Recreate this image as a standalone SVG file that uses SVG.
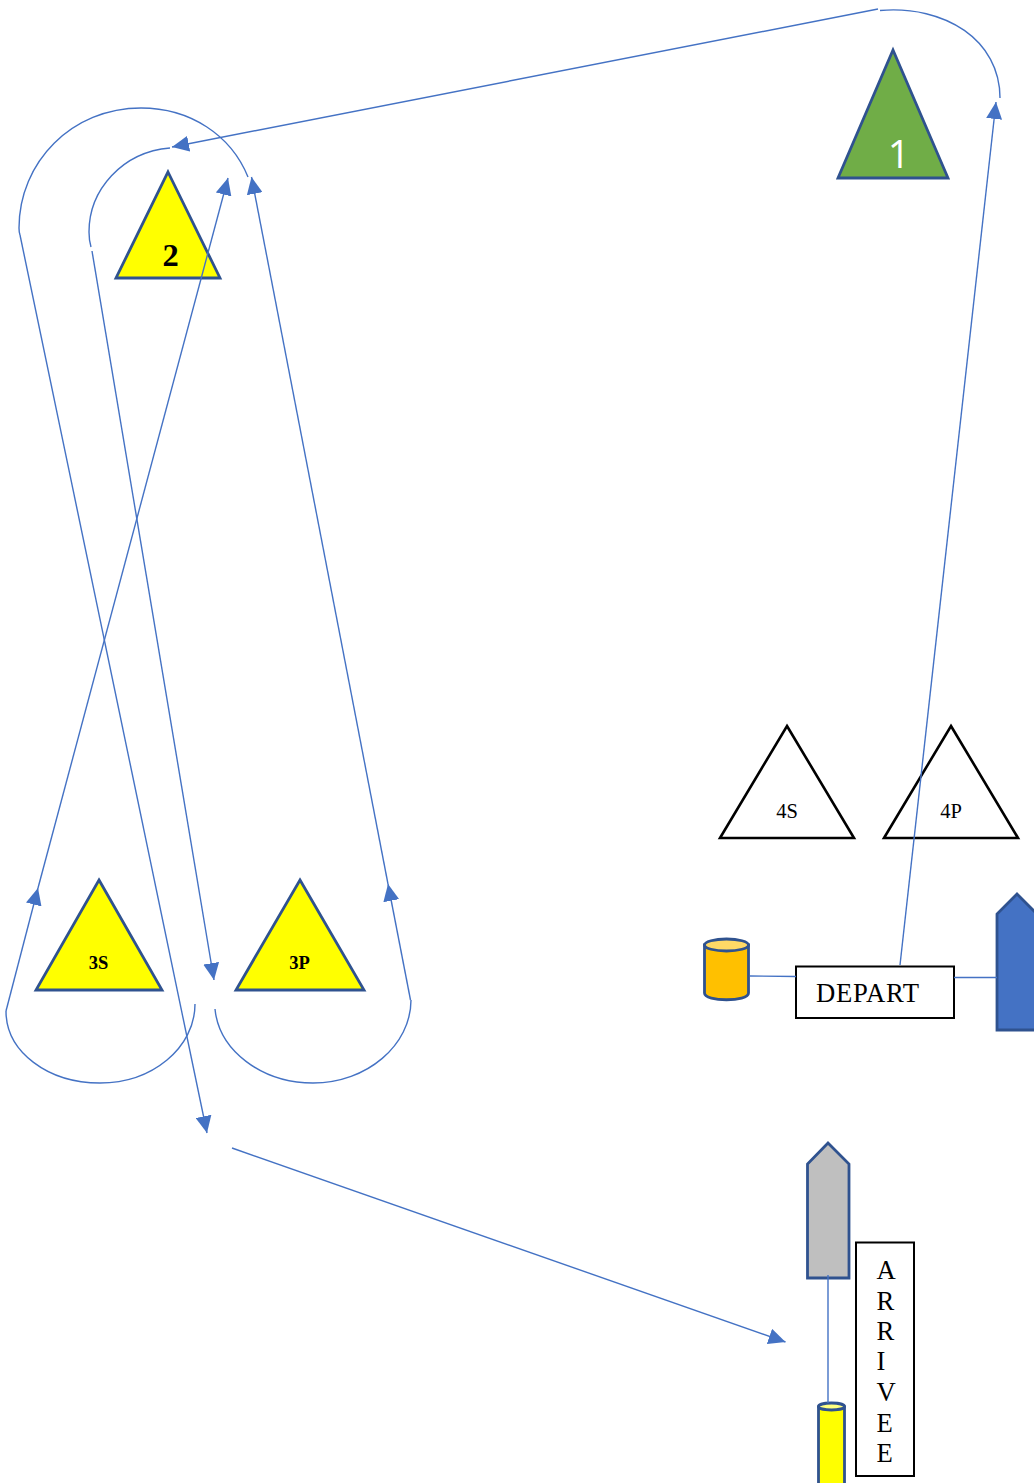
<svg xmlns="http://www.w3.org/2000/svg" width="1034" height="1483" viewBox="0 0 1034 1483">
<style>
.shape{stroke:#2f528f;stroke-width:2.8;stroke-linejoin:miter}
.tri{fill:#fff;stroke:#000;stroke-width:2.6}
.box{fill:#fff;stroke:#000;stroke-width:2}
.c{fill:none;stroke:#4472c4;stroke-width:1.4}
.a{marker-end:url(#arrow)}
text{font-family:"Liberation Serif","Times New Roman",serif;fill:#000}
.b{font-weight:bold}
</style>
<defs>
<marker id="arrow" markerUnits="userSpaceOnUse" markerWidth="17" markerHeight="16" viewBox="0 0 17 16" refX="17" refY="8" orient="auto">
<polygon points="0,0 17,8 0,16" fill="#4472c4"/>
</marker>
</defs>
<rect width="1034" height="1483" fill="#fff"/>
<g id="node-1"><polygon class="shape" points="893,50 948,178 838,178" fill="#70ad47"/><text x="899" y="168" font-size="39" text-anchor="middle" style="font-family:'Open Sans',sans-serif;fill:#fff">1</text></g>
<g id="node-2"><polygon class="shape" points="168,172 220,278 116,278" fill="#ffff00"/><text class="b" x="170.500" y="266" font-size="32.500" text-anchor="middle">2</text></g>
<g id="node-3s"><polygon class="shape" points="99,880 162,990 36,990" fill="#ffff00"/><text class="b" x="98.500" y="969" font-size="18.500" text-anchor="middle">3S</text></g>
<g id="node-3p"><polygon class="shape" points="300,880 364,990 236,990" fill="#ffff00"/><text class="b" x="299.500" y="969" font-size="18.500" text-anchor="middle">3P</text></g>
<g id="node-4s"><polygon class="tri" points="787,726 854,838 720,838"/><text x="787" y="818" font-size="20.500" text-anchor="middle">4S</text></g>
<g id="node-4p"><polygon class="tri" points="951,726 1018,838 884,838"/><text x="951" y="818" font-size="20.500" text-anchor="middle">4P</text></g>
<g id="node-depart"><rect class="box" x="796" y="966.500" width="158" height="51.500"/><text x="816" y="1002" font-size="26.670" letter-spacing="0.700">DEPART</text></g>
<g id="node-arrive"><rect class="box" x="856" y="1242.500" width="58" height="233.500"/>
<text x="877" font-size="26.670"><tspan x="876.500" y="1279">A</tspan><tspan x="876.500" y="1310">R</tspan><tspan x="876.500" y="1340">R</tspan><tspan x="876.500" y="1370">I</tspan><tspan x="876.500" y="1401">V</tspan><tspan x="876.500" y="1432">E</tspan><tspan x="876.500" y="1462">E</tspan></text></g>
<g id="node-orange-tank"><path class="shape" d="M704.500 945V993C704.500 1002 748.500 1002 748.500 993V945Z" fill="#ffc000"/><ellipse class="shape" cx="726.500" cy="945" rx="22" ry="6" fill="#ffd966"/></g>
<g id="node-yellow-tank"><path class="shape" d="M818.500 1407V1490H844.500V1407Z" fill="#ffff00"/><ellipse class="shape" cx="831.500" cy="1406.500" rx="13" ry="3.500" fill="#ffff80"/></g>
<g id="node-blue-ship"><polygon class="shape" points="1017,894 1037,914 1037,1030 997,1030 997,914" fill="#4472c4"/></g>
<g id="node-grey-ship"><polygon class="shape" points="828,1143 849,1164 849,1278 807.500,1278 807.500,1164" fill="#bfbfbf"/></g>
<g id="connectors">
<path class="c a" d="M900 965L996 102"/>
<path class="c" d="M880 10.500C945 5 1000 40 1000 98"/>
<path class="c a" d="M878 9L172 147"/>
<path class="c" d="M170 148C122 152 89 190 89 232Q89 240 91 247"/>
<path class="c a" d="M92 251L214 980"/>
<path class="c" d="M248 177C231 135 190 108 141 108C72 108 19 162 19 228Q19 232 20 235"/>
<path class="c a" d="M20 235L207 1133"/>
<path class="c a" d="M232 1148L785.500 1342"/>
<path class="c" d="M195 1004C195 1048 152 1083 100 1083C48 1083 6 1052 6 1011"/>
<path class="c a" d="M6 1011L38 888"/>
<path class="c a" d="M38 888L228 178"/>
<path class="c" d="M215 1009C219 1050 261 1083 313 1083C367 1083 411 1045 411 1000"/>
<path class="c a" d="M410.500 1000L388 884"/>
<path class="c a" d="M388 884L251.500 177"/>
<path class="c" d="M750 976L796 976.500"/>
<path class="c" d="M954 977.500H997"/>
<path class="c" d="M828 1275V1403"/>
</g>
</svg>
